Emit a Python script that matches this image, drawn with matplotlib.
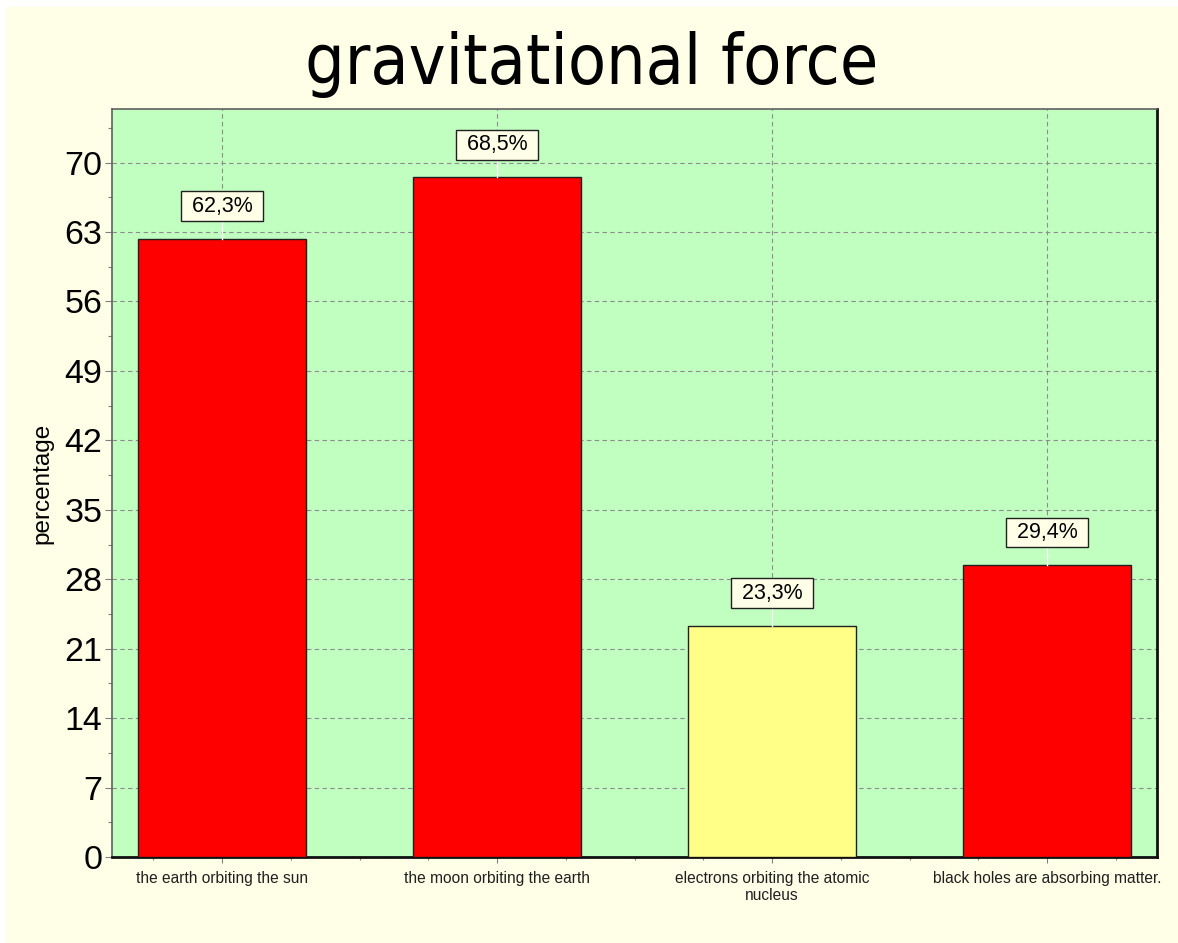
import matplotlib.pyplot as plt
from matplotlib.patches import Rectangle
from matplotlib.ticker import MultipleLocator

categories = [
    "the earth orbiting the sun",
    "the moon orbiting the earth",
    "electrons orbiting the atomic\nnucleus",
    "black holes are absorbing matter.",
]
values = [62.3, 68.5, 23.3, 29.4]
bar_colors = ["#FF0000", "#FF0000", "#FFFF88", "#FF0000"]
labels = ["62,3%", "68,5%", "23,3%", "29,4%"]

BG = "#FFFFE8"
PLOT_BG = "#C0FFC0"

fig = plt.figure(figsize=(11.78, 9.43), dpi=100, facecolor="white")
fig.patches.append(
    Rectangle((6 / 1178, 0), 1, 1 - 7 / 943, transform=fig.transFigure,
              facecolor=BG, edgecolor="none", zorder=-10)
)

ax = fig.add_axes([112 / 1178, 1 - 857 / 943, 1045 / 1178, 748 / 943])
ax.set_facecolor(PLOT_BG)

x = list(range(len(values)))
ax.bar(x, values, width=0.61, color=bar_colors, edgecolor="#202020",
       linewidth=1.0, zorder=3)

ax.set_xlim(-0.4, 3.4)
ax.set_ylim(0, 75.4)

ax.yaxis.set_major_locator(MultipleLocator(7))
ax.yaxis.set_minor_locator(MultipleLocator(3.5))
ax.set_xticks(x)
ax.set_xticklabels(categories, fontsize=11.2, family="Liberation Sans",
                   color="#202020", linespacing=1.2)
ax.xaxis.set_minor_locator(MultipleLocator(0.25))
for lab in ax.get_yticklabels():
    lab.set_family("Liberation Sans")
ax.tick_params(axis="y", which="major", labelsize=24.5, length=5, width=0.8,
               color="#808080", pad=2)
ax.tick_params(axis="y", which="minor", length=3, width=0.8, color="#808080")
ax.tick_params(axis="x", which="major", length=4, width=0.8, color="#808080",
               pad=6)
ax.tick_params(axis="x", which="minor", length=2, width=0.8, color="#808080")

ax.grid(True, which="major", linestyle=(0, (4, 3)), color="#8C8C8C",
        linewidth=0.8, zorder=1)
ax.set_axisbelow(True)

ax.set_ylabel("percentage", fontsize=17.5, family="Liberation Sans",
              labelpad=8)

for sp in ["top", "left"]:
    ax.spines[sp].set_color("#606060")
    ax.spines[sp].set_linewidth(1.2)
for sp in ["bottom", "right"]:
    ax.spines[sp].set_color("#101010")
    ax.spines[sp].set_linewidth(2.0)

for xi, v, lab in zip(x, values, labels):
    ax.plot([xi, xi], [v, v + 3.3], color="white", linewidth=1.0, zorder=4)
    ax.text(xi, v + 3.3, " " + lab + " ", ha="center", va="center",
            fontsize=15.5, family="Liberation Sans", zorder=5,
            bbox=dict(boxstyle="square,pad=0.2", facecolor=BG,
                      edgecolor="#202020", linewidth=1.0))

fig.text(592 / 1178, 1 - 64 / 943, "gravitational force", ha="center",
         va="center", fontsize=50, family="DejaVu Sans", stretch="condensed")

fig.savefig("out.png", dpi=100, facecolor=fig.get_facecolor())
